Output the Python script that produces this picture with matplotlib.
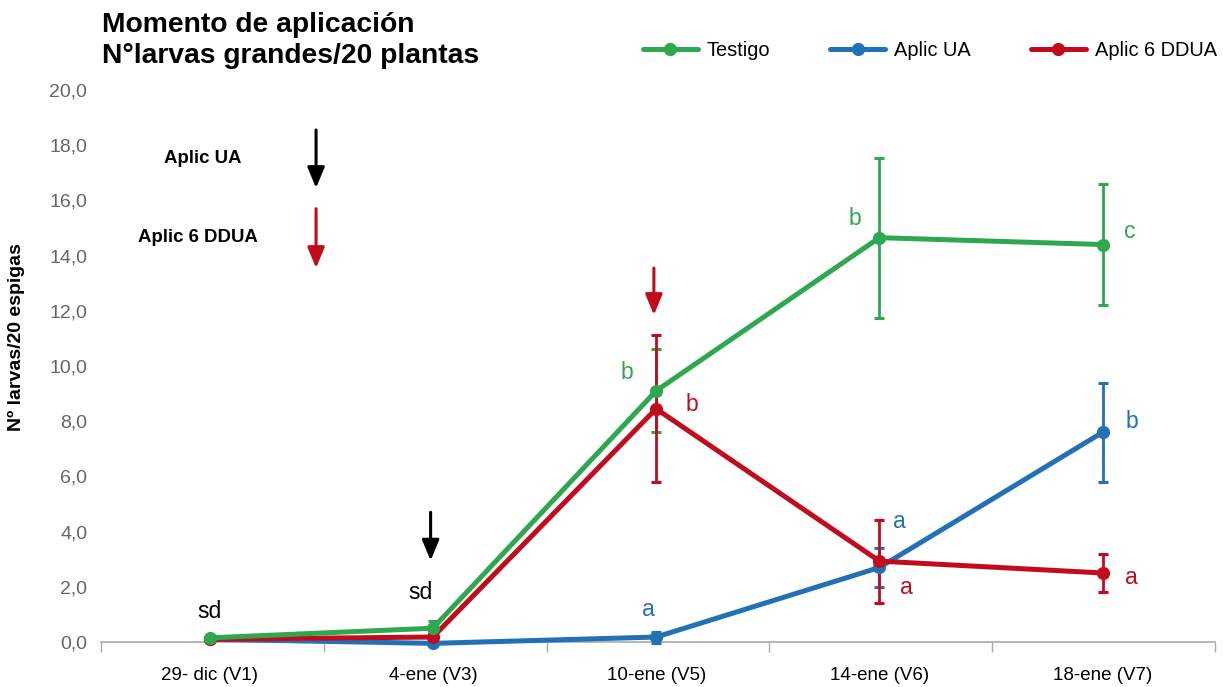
import numpy as np
import matplotlib.pyplot as plt

plt.rcParams['font.family'] = ['Liberation Sans', 'DejaVu Sans']

fechas = ['29- dic (V1)', '4-ene (V3)', '10-ene (V5)', '14-ene (V6)', '18-ene (V7)']
testigo = [0.15, 0.5, 9.1, 14.65, 14.4]
testigo_err = [0.0, 0.25, 1.5, 2.9, 2.2]
aplic_ua = [0.1, -0.05, 0.18, 2.7, 7.6]
aplic_ua_err = [0.0, 0.0, 0.2, 0.7, 1.8]
aplic_6 = [0.1, 0.18, 8.45, 2.93, 2.5]
aplic_6_err = [0.0, 0.1, 2.67, 1.5, 0.7]

verde = '#2ea84f'
azul = '#2270b5'
rojo = '#c20c1e'

fig = plt.figure(figsize=(12.23, 6.87), dpi=100)
ax = fig.add_axes([0.0826, 0.0655, 0.9109, 0.8035])
x = np.arange(len(fechas))

# barras de error primero
for vals, err, col in [(testigo, testigo_err, verde), (aplic_ua, aplic_ua_err, azul),
                       (aplic_6, aplic_6_err, rojo)]:
    ax.errorbar(x, vals, yerr=err, fmt='none', ecolor=col, elinewidth=2.0,
                capsize=3.8, capthick=2.2, zorder=2, clip_on=False)

ax.plot(x, aplic_ua, color=azul, lw=3.6, marker='o', ms=8.5, label='Aplic UA',
        zorder=3, clip_on=False, solid_capstyle='round')
ax.plot(x, aplic_6, color=rojo, lw=3.6, marker='o', ms=8.5, label='Aplic 6 DDUA',
        zorder=4, clip_on=False, solid_capstyle='round')
ax.plot(x, testigo, color=verde, lw=3.6, marker='o', ms=8.5, label='Testigo',
        zorder=5, clip_on=False, solid_capstyle='round')

ax.set_xlim(-0.486, 4.503)
ax.set_ylim(0, 20)
ax.set_yticks(np.arange(0, 21, 2))
ax.set_yticklabels([('%.1f' % v).replace('.', ',') for v in np.arange(0, 21, 2)],
                   color='#666666', fontsize=14)
ax.tick_params(axis='y', length=0, pad=10)
ax.set_xticks(x)
ax.set_xticklabels(fechas, fontsize=13.5)
ax.tick_params(axis='x', length=0, pad=18)
ax.set_xticks(np.arange(-0.486, 4.6, 0.9978), minor=True)
ax.tick_params(axis='x', which='minor', length=7, color='#aaaaaa', width=1)
for s in ['top', 'right', 'left']:
    ax.spines[s].set_visible(False)
ax.spines['bottom'].set_color('#aaaaaa')
ax.spines['bottom'].set_linewidth(1.2)

ax.set_ylabel('Nº larvas/20 espigas', fontsize=14, fontweight='bold')
ax.yaxis.set_label_coords(-0.068, 0.553)

fig.text(0.083, 1 - 32 / 687, 'Momento de aplicación', fontsize=20.3,
         fontweight='bold', va='baseline', ha='left')
fig.text(0.083, 1 - 63 / 687, 'N°larvas grandes/20 plantas', fontsize=20.3,
         fontweight='bold', va='baseline', ha='left')

# leyenda
h, l = ax.get_legend_handles_labels()
orden = [2, 0, 1]
leg = fig.legend([h[i] for i in orden], [l[i] for i in orden], loc='center right',
                 bbox_to_anchor=(1217 / 1223, 1 - 50 / 687), ncol=3, frameon=False,
                 fontsize=14.4, handlelength=2.75, columnspacing=3.0,
                 handletextpad=0.45, borderaxespad=0, borderpad=0)

# letras
letras = [
    (0, 1.09, 'sd', 'black'),
    (0.945, 1.78, 'sd', 'black'),
    (1.964, 1.16, 'a', azul),
    (1.87, 9.75, 'b', verde),
    (2.16, 8.59, 'b', rojo),
    (2.89, 15.36, 'b', verde),
    (4.12, 14.89, 'c', verde),
    (3.09, 4.35, 'a', azul),
    (3.12, 1.96, 'a', rojo),
    (4.13, 8.0, 'b', azul),
    (4.13, 2.32, 'a', rojo),
]
for xi, yi, t, c in letras:
    ax.text(xi, yi, t, color=c, fontsize=16.5, ha='center', va='center')

# flechas de aplicacion
flechas = [
    (0.477, 18.55, 16.45, 'black'),
    (0.477, 15.7, 13.55, rojo),
    (0.99, 4.7, 2.95, 'black'),
    (1.99, 13.55, 11.85, rojo),
]
for xi, y0, y1, c in flechas:
    ax.annotate('', xy=(xi, y1), xytext=(xi, y0),
                arrowprops=dict(arrowstyle='-|>,head_width=0.52,head_length=1.25',
                                color=c, lw=2.2, shrinkA=0, shrinkB=0,
                                mutation_scale=10))
ax.text(-0.029, 17.5, 'Aplic UA', fontsize=13.4, fontweight='bold', ha='center', va='center')
ax.text(-0.052, 14.64, 'Aplic 6 DDUA', fontsize=13.4, fontweight='bold', ha='center', va='center')

plt.savefig('out.png', dpi=100)
